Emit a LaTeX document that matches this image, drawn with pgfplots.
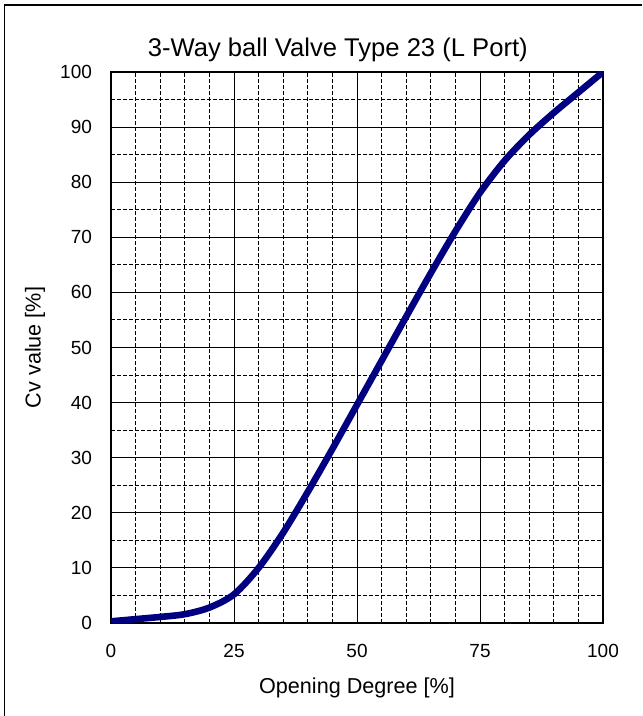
\documentclass[border=0pt]{standalone}
\usepackage{pgfplots}
\pgfplotsset{compat=1.18}
\usepackage{fontspec}
\setmainfont{Liberation Sans}
\definecolor{curveblue}{RGB}{0,0,128}

\begin{document}
\begin{tikzpicture}
\useasboundingbox (0,0) rectangle (321pt,358pt);
% outer frame (right and bottom edges fall outside the picture)
\draw[line width=0.8pt] (2.2pt,0) -- (2.2pt,355.5pt) -- (321pt,355.5pt);

\begin{axis}[
    at={(55.5pt,46.5pt)}, anchor=south west,
    scale only axis,
    width=246pt, height=275.5pt,
    xmin=0, xmax=100,
    ymin=0, ymax=100,
    xtick={0,25,50,75,100},
    ytick={0,10,...,100},
    minor x tick num=4,
    minor y tick num=1,
    major tick length=0pt, minor tick length=0pt,
    grid=both,
    major grid style={black, line width=0.5pt},
    minor grid style={black, line width=0.5pt, dash pattern=on 2pt off 1pt},
    axis line style={line width=1pt},
    /pgf/number format/assume math mode=true,
    tick label style={font=\fontsize{9.5}{11}\selectfont},
    xticklabel style={yshift=-7pt},
    yticklabel style={xshift=-6pt},
    label style={font=\fontsize{10.8}{12}\selectfont},
    xlabel={Opening Degree [\%]},
    ylabel={Cv value [\%]},
    xlabel style={at={(axis description cs:0.5,-0.118)}, anchor=center},
    ylabel style={at={(axis description cs:-0.1545,0.5)}, anchor=center},
    title={3-Way ball Valve Type 23 (L Port)},
    title style={at={(axis description cs:0.461,1.019)}, anchor=center, font=\fontsize{12.8}{14}\selectfont},
]
\addplot[color=curveblue, line width=3.3pt, smooth] coordinates {
    (0,0.3) (5,0.7) (10,1.1) (15,1.6) (20,2.8) (25,5.2)
    (30,10.0) (35,16.4) (40,23.8) (45,31.6) (50,39.6) (55,47.6)
    (60,55.6) (65,63.5) (70,71.1) (75,78.1) (80,83.9) (85,88.6)
    (90,92.6) (95,96.3) (100,100)
};
\end{axis}
\end{tikzpicture}
\end{document}
